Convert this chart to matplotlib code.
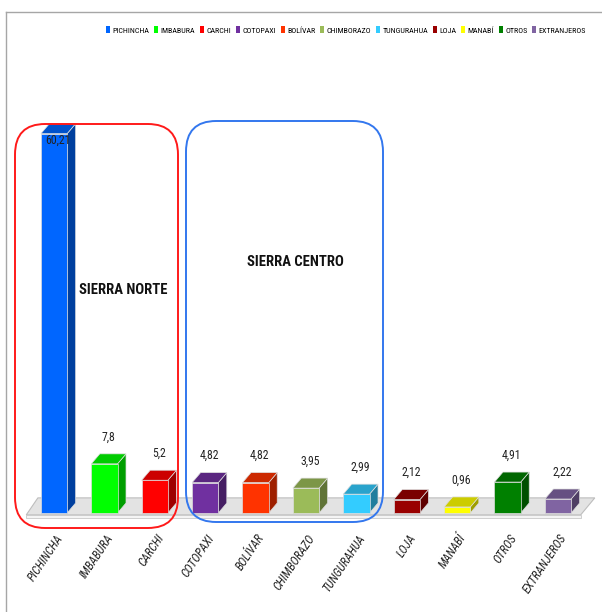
import numpy as np
import matplotlib
matplotlib.use("Agg")
import matplotlib.pyplot as plt
from matplotlib.patches import Polygon, FancyBboxPatch, Patch
from matplotlib.lines import Line2D
from matplotlib.font_manager import FontProperties
import matplotlib.colors as mcolors

# Data
provincias = ["PICHINCHA", "IMBABURA", "CARCHI", "COTOPAXI", "BOLÍVAR", "CHIMBORAZO",
              "TUNGURAHUA", "LOJA", "MANABÍ", "OTROS", "EXTRANJEROS"]
valores = [60.21, 7.8, 5.2, 4.82, 4.82, 3.95, 2.99, 2.12, 0.96, 4.91, 2.22]
etiquetas = ["60,21", "7,8", "5,2", "4,82", "4,82", "3,95", "2,99", "2,12", "0,96", "4,91", "2,22"]
colores = ["#0066FF", "#00FF00", "#FF0000", "#7030A0", "#FF3300", "#9BBB59",
           "#33CCFF", "#990000", "#FFFF00", "#008000", "#8064A2"]

# narrow font first, whatever is installed
FONT = ["Liberation Sans Narrow", "DejaVu Sans Condensed", "Roboto Condensed", "Lato", "DejaVu Sans"]
plt.rcParams['font.family'] = FONT
ital = FontProperties(family=FONT, style="italic", size=8.6)

W, H = 602, 612
fig = plt.figure(figsize=(W / 100, H / 100), dpi=100)

# pixel geometry of the plot area
x0px, stepx = 54, 50.4      # centre of first bar, spacing
base_px, unit_px = 513, 6.3  # baseline and px per unit
xlim = (-0.9, 10.8)
ylim = (-1.5, 62.5)
left = x0px + xlim[0] * stepx
right = x0px + xlim[1] * stepx
top = base_px - ylim[1] * unit_px
bottom = base_px - ylim[0] * unit_px
ax = fig.add_axes([left / W, 1 - bottom / H, (right - left) / W, (bottom - top) / H])
ax.set_xlim(*xlim)
ax.set_ylim(*ylim)
ax.axis("off")

def shade(c, f):
    r, g, b = mcolors.to_rgb(c)
    return (r * f, g * f, b * f)

x = np.arange(len(valores))
bw = 0.52
ddx, ddy = 8.5 / stepx, 10 / unit_px

# floor
fl = Polygon([(-0.55, -0.3), (10.45, -0.3), (10.73, 2.4), (-0.32, 2.4)],
             closed=True, facecolor="#E3E3E3", edgecolor="#BDBDBD", lw=0.8, zorder=1)
ax.add_patch(fl)
slab = Polygon([(-0.55, -0.3), (10.45, -0.3), (10.45, -0.8), (-0.55, -0.8)],
               closed=True, facecolor="#F4F4F4", edgecolor="#C8C8C8", lw=0.6, zorder=1)
ax.add_patch(slab)

# bars
for xi, v, c in zip(x, valores, colores):
    xl, xr = xi - bw / 2, xi + bw / 2
    ax.add_patch(Polygon([(xr, 0), (xr + ddx, ddy), (xr + ddx, v + ddy), (xr, v)],
                         closed=True, facecolor=shade(c, 0.62), edgecolor="#DDDDDD", lw=0.5, zorder=3))
    ax.add_patch(Polygon([(xl, v), (xr, v), (xr + ddx, v + ddy), (xl + ddx, v + ddy)],
                         closed=True, facecolor=shade(c, 0.8), edgecolor="#DDDDDD", lw=0.5, zorder=3))
    ax.bar(xi, v, width=bw, bottom=0, color=c, edgecolor="#DDDDDD", lw=0.5, zorder=4)

# value labels
for xi, v, t in zip(x, valores, etiquetas):
    yl = min(v + ddy + 2.7, ylim[1] - 3.3)
    ax.text(xi + 0.08, yl, t, ha="center", va="center", fontsize=8.5, color="#222222", zorder=6)

# category labels
for xi, name in zip(x, provincias):
    ax.text(xi + 0.02, -3.0, name, rotation=56, ha="right", va="top", rotation_mode="anchor",
            fontproperties=ital, color="#222222", clip_on=False)

# region boxes (pixel coords -> figure fraction)
def rbox(x1, y1, x2, y2, col):
    p = FancyBboxPatch((x1 / W, 1 - y2 / H), (x2 - x1) / W, (y2 - y1) / H,
                       boxstyle="round,pad=0,rounding_size=0.05", transform=fig.transFigure,
                       facecolor="none", edgecolor=col, lw=1.4, zorder=10)
    fig.patches.append(p)

rbox(15, 124, 178, 528, "#FF1A1A")
rbox(186, 121, 383, 522, "#3377EE")
fig.text(123 / W, 1 - 290 / H, "SIERRA NORTE", ha="center", va="center",
         fontsize=10.5, fontweight="bold", color="#111111")
fig.text(295 / W, 1 - 262 / H, "SIERRA CENTRO", ha="center", va="center",
         fontsize=10.5, fontweight="bold", color="#111111")

# legend
handles = [Patch(facecolor=c, edgecolor="none", label=n) for n, c in zip(provincias, colores)]
fig.legend(handles=handles, loc="center", bbox_to_anchor=(346 / W, 1 - 30 / H), ncol=11,
           fontsize=5.8, frameon=False, handlelength=0.5, handleheight=0.9,
           handletextpad=0.3, columnspacing=0.6, borderpad=0.2)

# outer frame (top and left only)
fig.add_artist(Line2D([6 / W, 1], [1 - 12 / H, 1 - 12 / H], transform=fig.transFigure,
                      color="#A6A6A6", lw=1))
fig.add_artist(Line2D([6 / W, 6 / W], [0, 1 - 12 / H], transform=fig.transFigure,
                      color="#A6A6A6", lw=1))

fig.savefig("out.png", dpi=100, facecolor="white")
